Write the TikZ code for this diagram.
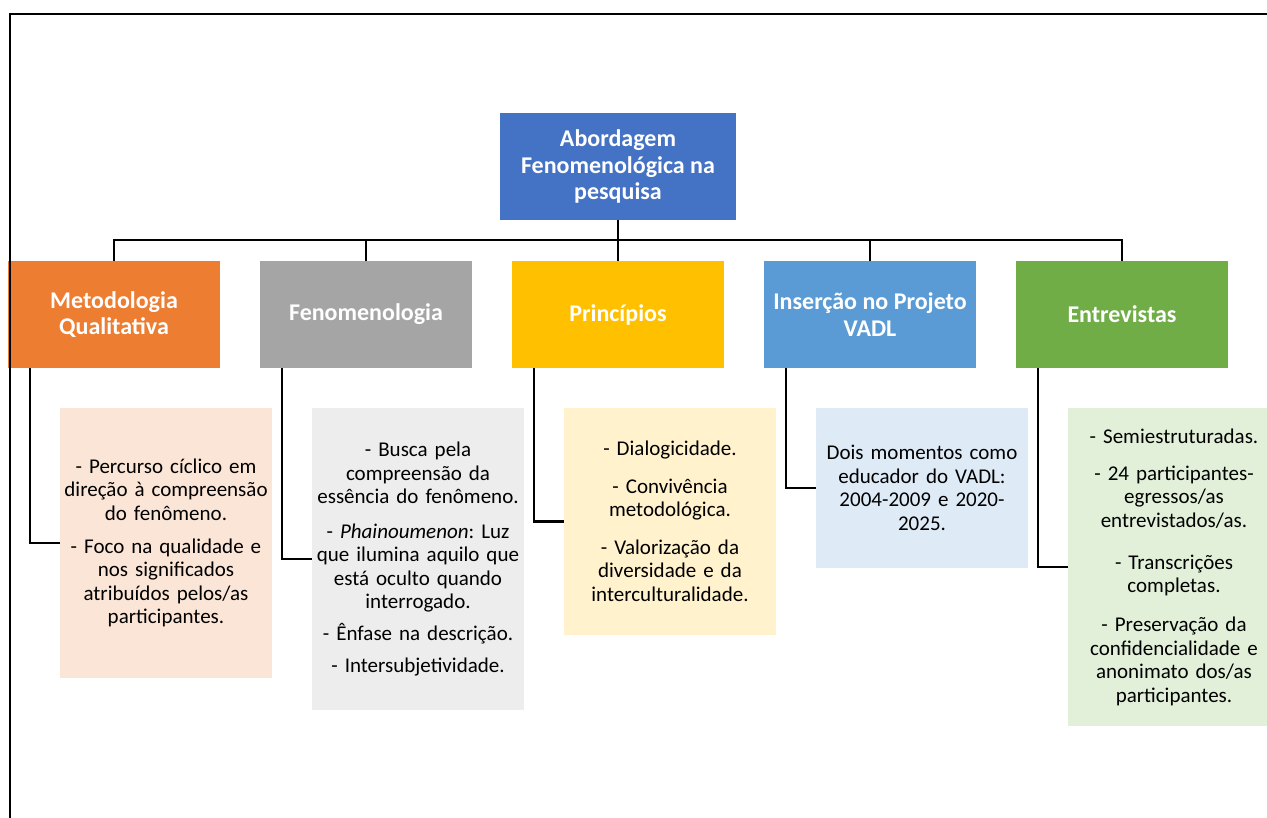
\documentclass[tikz,border=0pt]{standalone}
\usepackage{fontspec}
\setmainfont{Carlito}
\frenchspacing
\definecolor{cRoot}{HTML}{4472C4}
\definecolor{cOra}{HTML}{ED7D31}
\definecolor{cGra}{HTML}{A5A5A5}
\definecolor{cGol}{HTML}{FFC000}
\definecolor{cBlu}{HTML}{5B9BD5}
\definecolor{cGre}{HTML}{70AD47}
\definecolor{lOra}{HTML}{FBE5D6}
\definecolor{lGra}{HTML}{EDEDED}
\definecolor{lGol}{HTML}{FFF2CC}
\definecolor{lBlu}{HTML}{DEEBF7}
\definecolor{lGre}{HTML}{E2F0D9}
\tikzset{
  topbox/.style={inner sep=0pt, minimum width=212pt, minimum height=107pt, text=white, align=center,
    font=\fontsize{24}{26.5}\selectfont\bfseries},
  subbox/.style={inner xsep=1pt, inner ysep=0pt, minimum width=212pt, text width=210pt, align=center,
    font=\fontsize{21}{23.5}\selectfont\frenchspacing},
  link/.style={draw=black, line width=2.5pt}
}
\begin{document}
\begin{tikzpicture}[x=1pt,y=-1pt]
\useasboundingbox (0,0) rectangle (1267,818);
\clip (0,0) rectangle (1267,818);
\node[topbox, fill=cRoot, minimum width=236pt] (root) at (618,166.5) {Abordagem\\Fenomenológica na\\pesquisa};
\node[topbox, fill=cOra] (mq) at (114,314.5) {Metodologia\\Qualitativa};
\node[topbox, fill=cGra] (fe) at (366,314.5) {Fenomenologia};
\node[topbox, fill=cGol] (pr) at (618,314.5) {Princípios};
\node[topbox, fill=cBlu] (in) at (870,314.5) {Inserção no Projeto\\VADL};
\node[topbox, fill=cGre] (en) at (1122,314.5) {Entrevistas};

\node[subbox, fill=lOra, minimum height=270pt] (mqc) at (166,543) {- Percurso cíclico em\\direção à compreensão\\do fenômeno.\\[9.5pt]- Foco na qualidade e\\nos significados\\atribuídos pelos/as\\participantes.};
\node[subbox, fill=lGra, minimum height=302pt] (fec) at (418,559) {- Busca pela\\compreensão da\\essência do fenômeno.\\[11pt]- \textit{Phainoumenon}: Luz\\que ilumina aquilo que\\está oculto quando\\interrogado.\\[8pt]- Ênfase na descrição.\\[8.5pt]- Intersubjetividade.};
\node[subbox, fill=lGol, minimum height=227pt] (prc) at (670,521.5) {- Dialogicidade.\\[14pt]- Convivência\\metodológica.\\[14pt]- Valorização da\\diversidade e da\\interculturalidade.};
\node[subbox, fill=lBlu, minimum height=160pt] (inc) at (922,488) {Dois momentos como\\educador do VADL:\\2004-2009 e 2020-\\2025.};
\node[subbox, fill=lGre, minimum height=318pt] (enc) at (1174,567) {- Semiestruturadas.\\[13.5pt]- 24 participantes-\\egressos/as\\entrevistados/as.\\[18.5pt]- Transcrições\\completas.\\[15.5pt]- Preservação da\\confidencialidade e\\anonimato dos/as\\participantes.};

\coordinate (bus) at (618,240);
\draw[link] (root.south) -- (bus);
\draw[link] (mq.north) |- (bus) -| (en.north);
\draw[link] (fe.north) -- (fe.north |- bus);
\draw[link] (pr.north) -- (pr.north |- bus);
\draw[link] (in.north) -- (in.north |- bus);

\draw[link] ([xshift=22pt]mq.south west) |- (mqc.west);
\draw[link] ([xshift=22pt]fe.south west) |- (fec.west);
\draw[link] ([xshift=22pt]pr.south west) |- (prc.west);
\draw[link] ([xshift=22pt]in.south west) |- (inc.west);
\draw[link] ([xshift=22pt]en.south west) |- (enc.west);

\draw[line width=2pt] (10,830) -- (10,14) -- (1280,14);
\end{tikzpicture}
\end{document}
